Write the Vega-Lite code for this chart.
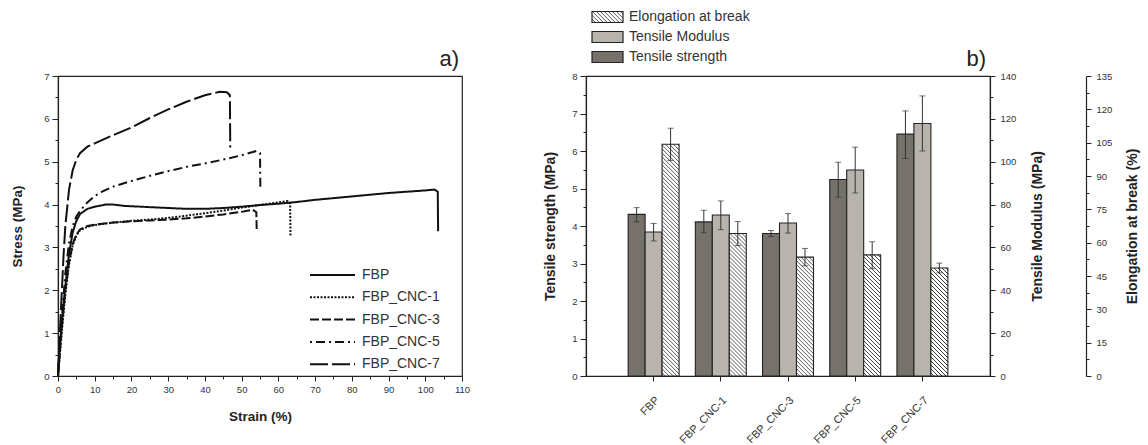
{
  "$schema": "https://vega.github.io/schema/vega-lite/v6.json",
  "padding": {"left": 10, "top": 9, "right": 0, "bottom": 0},
  "background": "white",
  "bounds": "flush",
  "spacing": 124,
  "params": [
    {"name": "hatch", "value": [
      {"offset":0,"color":"#fff"},{"offset":0.0095,"color":"#fff"},{"offset":0.0127,"color":"#222"},
      {"offset":0.0159,"color":"#fff"},{"offset":0.0254,"color":"#fff"},{"offset":0.0286,"color":"#222"},
      {"offset":0.0317,"color":"#fff"},{"offset":0.0413,"color":"#fff"},{"offset":0.0444,"color":"#222"},
      {"offset":0.0476,"color":"#fff"},{"offset":0.0571,"color":"#fff"},{"offset":0.0603,"color":"#222"},
      {"offset":0.0635,"color":"#fff"},{"offset":0.0730,"color":"#fff"},{"offset":0.0762,"color":"#222"},
      {"offset":0.0794,"color":"#fff"},{"offset":0.0889,"color":"#fff"},{"offset":0.0921,"color":"#222"},
      {"offset":0.0952,"color":"#fff"},{"offset":0.1048,"color":"#fff"},{"offset":0.1079,"color":"#222"},
      {"offset":0.1111,"color":"#fff"},{"offset":0.1206,"color":"#fff"},{"offset":0.1238,"color":"#222"},
      {"offset":0.1270,"color":"#fff"},{"offset":0.1365,"color":"#fff"},{"offset":0.1397,"color":"#222"},
      {"offset":0.1429,"color":"#fff"},{"offset":0.1524,"color":"#fff"},{"offset":0.1556,"color":"#222"},
      {"offset":0.1587,"color":"#fff"},{"offset":0.1683,"color":"#fff"},{"offset":0.1714,"color":"#222"},
      {"offset":0.1746,"color":"#fff"},{"offset":0.1841,"color":"#fff"},{"offset":0.1873,"color":"#222"},
      {"offset":0.1905,"color":"#fff"},{"offset":0.2000,"color":"#fff"},{"offset":0.2032,"color":"#222"},
      {"offset":0.2063,"color":"#fff"},{"offset":0.2159,"color":"#fff"},{"offset":0.2190,"color":"#222"},
      {"offset":0.2222,"color":"#fff"},{"offset":0.2317,"color":"#fff"},{"offset":0.2349,"color":"#222"},
      {"offset":0.2381,"color":"#fff"},{"offset":0.2476,"color":"#fff"},{"offset":0.2508,"color":"#222"},
      {"offset":0.2540,"color":"#fff"},{"offset":0.2635,"color":"#fff"},{"offset":0.2667,"color":"#222"},
      {"offset":0.2698,"color":"#fff"},{"offset":0.2794,"color":"#fff"},{"offset":0.2825,"color":"#222"},
      {"offset":0.2857,"color":"#fff"},{"offset":0.2952,"color":"#fff"},{"offset":0.2984,"color":"#222"},
      {"offset":0.3016,"color":"#fff"},{"offset":0.3111,"color":"#fff"},{"offset":0.3143,"color":"#222"},
      {"offset":0.3175,"color":"#fff"},{"offset":0.3270,"color":"#fff"},{"offset":0.3302,"color":"#222"},
      {"offset":0.3333,"color":"#fff"},{"offset":0.3429,"color":"#fff"},{"offset":0.3460,"color":"#222"},
      {"offset":0.3492,"color":"#fff"},{"offset":0.3587,"color":"#fff"},{"offset":0.3619,"color":"#222"},
      {"offset":0.3651,"color":"#fff"},{"offset":0.3746,"color":"#fff"},{"offset":0.3778,"color":"#222"},
      {"offset":0.3810,"color":"#fff"},{"offset":0.3905,"color":"#fff"},{"offset":0.3937,"color":"#222"},
      {"offset":0.3968,"color":"#fff"},{"offset":0.4063,"color":"#fff"},{"offset":0.4095,"color":"#222"},
      {"offset":0.4127,"color":"#fff"},{"offset":0.4222,"color":"#fff"},{"offset":0.4254,"color":"#222"},
      {"offset":0.4286,"color":"#fff"},{"offset":0.4381,"color":"#fff"},{"offset":0.4413,"color":"#222"},
      {"offset":0.4444,"color":"#fff"},{"offset":0.4540,"color":"#fff"},{"offset":0.4571,"color":"#222"},
      {"offset":0.4603,"color":"#fff"},{"offset":0.4698,"color":"#fff"},{"offset":0.4730,"color":"#222"},
      {"offset":0.4762,"color":"#fff"},{"offset":0.4857,"color":"#fff"},{"offset":0.4889,"color":"#222"},
      {"offset":0.4921,"color":"#fff"},{"offset":0.5016,"color":"#fff"},{"offset":0.5048,"color":"#222"},
      {"offset":0.5079,"color":"#fff"},{"offset":0.5175,"color":"#fff"},{"offset":0.5206,"color":"#222"},
      {"offset":0.5238,"color":"#fff"},{"offset":0.5333,"color":"#fff"},{"offset":0.5365,"color":"#222"},
      {"offset":0.5397,"color":"#fff"},{"offset":0.5492,"color":"#fff"},{"offset":0.5524,"color":"#222"},
      {"offset":0.5556,"color":"#fff"},{"offset":0.5651,"color":"#fff"},{"offset":0.5683,"color":"#222"},
      {"offset":0.5714,"color":"#fff"},{"offset":0.5810,"color":"#fff"},{"offset":0.5841,"color":"#222"},
      {"offset":0.5873,"color":"#fff"},{"offset":0.5968,"color":"#fff"},{"offset":0.6000,"color":"#222"},
      {"offset":0.6032,"color":"#fff"},{"offset":0.6127,"color":"#fff"},{"offset":0.6159,"color":"#222"},
      {"offset":0.6190,"color":"#fff"},{"offset":0.6286,"color":"#fff"},{"offset":0.6317,"color":"#222"},
      {"offset":0.6349,"color":"#fff"},{"offset":0.6444,"color":"#fff"},{"offset":0.6476,"color":"#222"},
      {"offset":0.6508,"color":"#fff"},{"offset":0.6603,"color":"#fff"},{"offset":0.6635,"color":"#222"},
      {"offset":0.6667,"color":"#fff"},{"offset":0.6762,"color":"#fff"},{"offset":0.6794,"color":"#222"},
      {"offset":0.6825,"color":"#fff"},{"offset":0.6921,"color":"#fff"},{"offset":0.6952,"color":"#222"},
      {"offset":0.6984,"color":"#fff"},{"offset":0.7079,"color":"#fff"},{"offset":0.7111,"color":"#222"},
      {"offset":0.7143,"color":"#fff"},{"offset":0.7238,"color":"#fff"},{"offset":0.7270,"color":"#222"},
      {"offset":0.7302,"color":"#fff"},{"offset":0.7397,"color":"#fff"},{"offset":0.7429,"color":"#222"},
      {"offset":0.7460,"color":"#fff"},{"offset":0.7556,"color":"#fff"},{"offset":0.7587,"color":"#222"},
      {"offset":0.7619,"color":"#fff"},{"offset":0.7714,"color":"#fff"},{"offset":0.7746,"color":"#222"},
      {"offset":0.7778,"color":"#fff"},{"offset":0.7873,"color":"#fff"},{"offset":0.7905,"color":"#222"},
      {"offset":0.7937,"color":"#fff"},{"offset":0.8032,"color":"#fff"},{"offset":0.8063,"color":"#222"},
      {"offset":0.8095,"color":"#fff"},{"offset":0.8190,"color":"#fff"},{"offset":0.8222,"color":"#222"},
      {"offset":0.8254,"color":"#fff"},{"offset":0.8349,"color":"#fff"},{"offset":0.8381,"color":"#222"},
      {"offset":0.8413,"color":"#fff"},{"offset":0.8508,"color":"#fff"},{"offset":0.8540,"color":"#222"},
      {"offset":0.8571,"color":"#fff"},{"offset":0.8667,"color":"#fff"},{"offset":0.8698,"color":"#222"},
      {"offset":0.8730,"color":"#fff"},{"offset":0.8825,"color":"#fff"},{"offset":0.8857,"color":"#222"},
      {"offset":0.8889,"color":"#fff"},{"offset":0.8984,"color":"#fff"},{"offset":0.9016,"color":"#222"},
      {"offset":0.9048,"color":"#fff"},{"offset":0.9143,"color":"#fff"},{"offset":0.9175,"color":"#222"},
      {"offset":0.9206,"color":"#fff"},{"offset":0.9302,"color":"#fff"},{"offset":0.9333,"color":"#222"},
      {"offset":0.9365,"color":"#fff"},{"offset":0.9460,"color":"#fff"},{"offset":0.9492,"color":"#222"},
      {"offset":0.9524,"color":"#fff"},{"offset":0.9619,"color":"#fff"},{"offset":0.9651,"color":"#222"},
      {"offset":0.9683,"color":"#fff"},{"offset":0.9778,"color":"#fff"},{"offset":0.9810,"color":"#222"},
      {"offset":0.9841,"color":"#fff"},{"offset":0.9937,"color":"#fff"},{"offset":0.9968,"color":"#222"},
      {"offset":1,"color":"#fff"}
    ]}
  ],
  "config": {
    "font": "Liberation Sans",
    "view": {"stroke": "#222", "strokeWidth": 1.2},
    "axis": {"labelFont": "Liberation Sans", "labelFontSize": 9.5, "labelColor": "#333", "titleFont": "Liberation Sans", "titleFontWeight": "bold", "titleColor": "#222", "domainColor": "#222", "domainWidth": 1.2, "tickColor": "#222", "tickWidth": 1, "grid": false, "labelOverlap": false},
    "legend": {"labelFont": "Liberation Sans", "labelFontSize": 14, "labelColor": "#333"},
    "title": {"font": "Liberation Sans", "fontSize": 22, "fontWeight": "normal", "color": "#222"}
  },
  "datasets": {
    "curves": [
      {"series":"FBP","i":0,"strain":0,"stress":0},
      {"series":"FBP","i":1,"strain":0.5,"stress":0.7},
      {"series":"FBP","i":2,"strain":1,"stress":1.2},
      {"series":"FBP","i":3,"strain":2,"stress":2.1},
      {"series":"FBP","i":4,"strain":3,"stress":2.85},
      {"series":"FBP","i":5,"strain":4,"stress":3.35},
      {"series":"FBP","i":6,"strain":5,"stress":3.62},
      {"series":"FBP","i":7,"strain":6,"stress":3.78},
      {"series":"FBP","i":8,"strain":8,"stress":3.9},
      {"series":"FBP","i":9,"strain":10,"stress":3.95},
      {"series":"FBP","i":10,"strain":13,"stress":4.0},
      {"series":"FBP","i":11,"strain":15,"stress":4.0},
      {"series":"FBP","i":12,"strain":18,"stress":3.97},
      {"series":"FBP","i":13,"strain":25,"stress":3.94},
      {"series":"FBP","i":14,"strain":30,"stress":3.92},
      {"series":"FBP","i":15,"strain":35,"stress":3.9},
      {"series":"FBP","i":16,"strain":40,"stress":3.9},
      {"series":"FBP","i":17,"strain":45,"stress":3.92},
      {"series":"FBP","i":18,"strain":50,"stress":3.95},
      {"series":"FBP","i":19,"strain":55,"stress":3.99},
      {"series":"FBP","i":20,"strain":60,"stress":4.02},
      {"series":"FBP","i":21,"strain":65,"stress":4.06},
      {"series":"FBP","i":22,"strain":70,"stress":4.11},
      {"series":"FBP","i":23,"strain":80,"stress":4.19},
      {"series":"FBP","i":24,"strain":90,"stress":4.27},
      {"series":"FBP","i":25,"strain":100,"stress":4.33},
      {"series":"FBP","i":26,"strain":102.5,"stress":4.35},
      {"series":"FBP","i":27,"strain":103.4,"stress":4.3},
      {"series":"FBP","i":28,"strain":103.5,"stress":3.38},
      {"series":"FBP_CNC-1","i":0,"strain":0,"stress":0},
      {"series":"FBP_CNC-1","i":1,"strain":1,"stress":1.0},
      {"series":"FBP_CNC-1","i":2,"strain":2,"stress":1.9},
      {"series":"FBP_CNC-1","i":3,"strain":3,"stress":2.6},
      {"series":"FBP_CNC-1","i":4,"strain":4,"stress":3.05},
      {"series":"FBP_CNC-1","i":5,"strain":5,"stress":3.28},
      {"series":"FBP_CNC-1","i":6,"strain":6,"stress":3.4},
      {"series":"FBP_CNC-1","i":7,"strain":8,"stress":3.48},
      {"series":"FBP_CNC-1","i":8,"strain":10,"stress":3.52},
      {"series":"FBP_CNC-1","i":9,"strain":15,"stress":3.58},
      {"series":"FBP_CNC-1","i":10,"strain":20,"stress":3.62},
      {"series":"FBP_CNC-1","i":11,"strain":25,"stress":3.65},
      {"series":"FBP_CNC-1","i":12,"strain":30,"stress":3.69},
      {"series":"FBP_CNC-1","i":13,"strain":35,"stress":3.74},
      {"series":"FBP_CNC-1","i":14,"strain":40,"stress":3.8},
      {"series":"FBP_CNC-1","i":15,"strain":45,"stress":3.86},
      {"series":"FBP_CNC-1","i":16,"strain":50,"stress":3.93},
      {"series":"FBP_CNC-1","i":17,"strain":55,"stress":3.99},
      {"series":"FBP_CNC-1","i":18,"strain":60,"stress":4.05},
      {"series":"FBP_CNC-1","i":19,"strain":62.5,"stress":4.08},
      {"series":"FBP_CNC-1","i":20,"strain":63.2,"stress":4.02},
      {"series":"FBP_CNC-1","i":21,"strain":63.3,"stress":3.25},
      {"series":"FBP_CNC-3","i":0,"strain":0,"stress":0},
      {"series":"FBP_CNC-3","i":1,"strain":1,"stress":1.1},
      {"series":"FBP_CNC-3","i":2,"strain":2,"stress":2.0},
      {"series":"FBP_CNC-3","i":3,"strain":3,"stress":2.65},
      {"series":"FBP_CNC-3","i":4,"strain":4,"stress":3.08},
      {"series":"FBP_CNC-3","i":5,"strain":5,"stress":3.3},
      {"series":"FBP_CNC-3","i":6,"strain":6,"stress":3.42},
      {"series":"FBP_CNC-3","i":7,"strain":8,"stress":3.5},
      {"series":"FBP_CNC-3","i":8,"strain":10,"stress":3.53},
      {"series":"FBP_CNC-3","i":9,"strain":15,"stress":3.58},
      {"series":"FBP_CNC-3","i":10,"strain":20,"stress":3.61},
      {"series":"FBP_CNC-3","i":11,"strain":25,"stress":3.63},
      {"series":"FBP_CNC-3","i":12,"strain":30,"stress":3.65},
      {"series":"FBP_CNC-3","i":13,"strain":35,"stress":3.68},
      {"series":"FBP_CNC-3","i":14,"strain":40,"stress":3.72},
      {"series":"FBP_CNC-3","i":15,"strain":45,"stress":3.77},
      {"series":"FBP_CNC-3","i":16,"strain":50,"stress":3.83},
      {"series":"FBP_CNC-3","i":17,"strain":53,"stress":3.88},
      {"series":"FBP_CNC-3","i":18,"strain":54,"stress":3.82},
      {"series":"FBP_CNC-3","i":19,"strain":54.1,"stress":3.43},
      {"series":"FBP_CNC-5","i":0,"strain":0,"stress":0},
      {"series":"FBP_CNC-5","i":1,"strain":1,"stress":1.3},
      {"series":"FBP_CNC-5","i":2,"strain":2,"stress":2.4},
      {"series":"FBP_CNC-5","i":3,"strain":3,"stress":3.1},
      {"series":"FBP_CNC-5","i":4,"strain":4,"stress":3.5},
      {"series":"FBP_CNC-5","i":5,"strain":5,"stress":3.72},
      {"series":"FBP_CNC-5","i":6,"strain":6,"stress":3.85},
      {"series":"FBP_CNC-5","i":7,"strain":8,"stress":4.05},
      {"series":"FBP_CNC-5","i":8,"strain":10,"stress":4.2},
      {"series":"FBP_CNC-5","i":9,"strain":12,"stress":4.3},
      {"series":"FBP_CNC-5","i":10,"strain":15,"stress":4.42},
      {"series":"FBP_CNC-5","i":11,"strain":20,"stress":4.55},
      {"series":"FBP_CNC-5","i":12,"strain":25,"stress":4.67},
      {"series":"FBP_CNC-5","i":13,"strain":30,"stress":4.78},
      {"series":"FBP_CNC-5","i":14,"strain":35,"stress":4.88},
      {"series":"FBP_CNC-5","i":15,"strain":40,"stress":4.96},
      {"series":"FBP_CNC-5","i":16,"strain":45,"stress":5.05},
      {"series":"FBP_CNC-5","i":17,"strain":50,"stress":5.15},
      {"series":"FBP_CNC-5","i":18,"strain":54,"stress":5.25},
      {"series":"FBP_CNC-5","i":19,"strain":55,"stress":5.2},
      {"series":"FBP_CNC-5","i":20,"strain":55.1,"stress":4.38},
      {"series":"FBP_CNC-7","i":0,"strain":0,"stress":0},
      {"series":"FBP_CNC-7","i":1,"strain":0.5,"stress":1.0},
      {"series":"FBP_CNC-7","i":2,"strain":1,"stress":1.9},
      {"series":"FBP_CNC-7","i":3,"strain":1.5,"stress":2.8},
      {"series":"FBP_CNC-7","i":4,"strain":2,"stress":3.5},
      {"series":"FBP_CNC-7","i":5,"strain":3,"stress":4.35},
      {"series":"FBP_CNC-7","i":6,"strain":4,"stress":4.8},
      {"series":"FBP_CNC-7","i":7,"strain":5,"stress":5.05},
      {"series":"FBP_CNC-7","i":8,"strain":6,"stress":5.2},
      {"series":"FBP_CNC-7","i":9,"strain":8,"stress":5.35},
      {"series":"FBP_CNC-7","i":10,"strain":10,"stress":5.43},
      {"series":"FBP_CNC-7","i":11,"strain":15,"stress":5.62},
      {"series":"FBP_CNC-7","i":12,"strain":20,"stress":5.8},
      {"series":"FBP_CNC-7","i":13,"strain":25,"stress":6.02},
      {"series":"FBP_CNC-7","i":14,"strain":30,"stress":6.22},
      {"series":"FBP_CNC-7","i":15,"strain":35,"stress":6.4},
      {"series":"FBP_CNC-7","i":16,"strain":40,"stress":6.55},
      {"series":"FBP_CNC-7","i":17,"strain":44,"stress":6.63},
      {"series":"FBP_CNC-7","i":18,"strain":46,"stress":6.62},
      {"series":"FBP_CNC-7","i":19,"strain":46.8,"stress":6.55},
      {"series":"FBP_CNC-7","i":20,"strain":46.9,"stress":5.33}
    ],
    "props": [
      {"sample":"FBP","measure":"Tensile strength","value":4.31,"lo":4.11,"hi":4.49},
      {"sample":"FBP_CNC-1","measure":"Tensile strength","value":4.11,"lo":3.82,"hi":4.42},
      {"sample":"FBP_CNC-3","measure":"Tensile strength","value":3.8,"lo":3.72,"hi":3.88},
      {"sample":"FBP_CNC-5","measure":"Tensile strength","value":5.24,"lo":4.77,"hi":5.7},
      {"sample":"FBP_CNC-7","measure":"Tensile strength","value":6.45,"lo":5.8,"hi":7.07},
      {"sample":"FBP","measure":"Tensile Modulus","value":67.2,"lo":63.0,"hi":71.2},
      {"sample":"FBP_CNC-1","measure":"Tensile Modulus","value":75.1,"lo":68.3,"hi":81.7},
      {"sample":"FBP_CNC-3","measure":"Tensile Modulus","value":71.4,"lo":66.7,"hi":75.8},
      {"sample":"FBP_CNC-5","measure":"Tensile Modulus","value":96.1,"lo":85.4,"hi":106.8},
      {"sample":"FBP_CNC-7","measure":"Tensile Modulus","value":117.8,"lo":105.0,"hi":130.7},
      {"sample":"FBP","measure":"Elongation at break","value":104.3,"lo":97.0,"hi":111.5},
      {"sample":"FBP_CNC-1","measure":"Elongation at break","value":64.1,"lo":58.7,"hi":69.5},
      {"sample":"FBP_CNC-3","measure":"Elongation at break","value":53.5,"lo":49.6,"hi":57.4},
      {"sample":"FBP_CNC-5","measure":"Elongation at break","value":54.5,"lo":48.3,"hi":60.4},
      {"sample":"FBP_CNC-7","measure":"Elongation at break","value":48.6,"lo":46.4,"hi":50.8}
    ]
  },
  "hconcat": [
    {
      "width": 404,
      "height": 300,
      "title": {"text": "a)", "anchor": "end", "frame": "group", "offset": 0, "dx": -3},
      "data": {"name": "curves"},
      "mark": {"type": "line", "color": "#111", "strokeWidth": 2},
      "encoding": {
        "x": {"field": "strain", "type": "quantitative", "scale": {"domain": [0, 110], "nice": false},
          "axis": {"title": "Strain (%)", "titleFontSize": 13.5, "values": [0,5,10,15,20,25,30,35,40,45,50,55,60,65,70,75,80,85,90,95,100,105,110],
            "format": ".0f", "labelExpr": "datum.value % 10 ? '' : datum.label", "labelFlush": false,
            "tickSize": {"condition": {"test": "datum.value % 10 !== 0", "value": 3}, "value": 5},
            "labelPadding": 3, "titlePadding": 16}},
        "y": {"field": "stress", "type": "quantitative", "scale": {"domain": [0, 7], "nice": false},
          "axis": {"title": "Stress (MPa)", "titleFontSize": 13.5, "values": [0,0.5,1,1.5,2,2.5,3,3.5,4,4.5,5,5.5,6,6.5,7],
            "format": ".0f", "labelExpr": "datum.value % 1 ? '' : datum.label", "labelFlush": false,
            "tickSize": {"condition": {"test": "datum.value % 1 !== 0", "value": 3}, "value": 6},
            "labelPadding": 3, "titlePadding": 19}},
        "strokeDash": {"field": "series", "type": "nominal",
          "scale": {"domain": ["FBP","FBP_CNC-1","FBP_CNC-3","FBP_CNC-5","FBP_CNC-7"], "range": [[1,0],[2,1.5],[9,3],[2,4,9,4],[18,4]]},
          "legend": {"orient": "none", "legendX": 251, "legendY": 191, "title": null, "symbolType": "stroke", "symbolSize": 2025,
            "symbolStrokeWidth": 2, "symbolStrokeColor": "#111", "labelOffset": 6, "clipHeight": 16, "rowPadding": 6.3, "labelFontSize": 14}},
        "order": {"field": "i", "type": "quantitative"}
      }
    },
    {
      "width": 404,
      "height": 300,
      "title": {"text": "b)", "anchor": "end", "frame": "group", "offset": 0, "dx": -4},
      "data": {"name": "props"},
      "layer": [
        {
          "transform": [{"filter": "datum.measure === 'Tensile strength'"}],
          "encoding": {
            "x": {"field": "sample", "type": "nominal", "sort": ["FBP","FBP_CNC-1","FBP_CNC-3","FBP_CNC-5","FBP_CNC-7"],
              "scale": {"paddingInner": 0.242, "paddingOuter": 0.627},
              "axis": {"title": null, "labelAngle": -45, "labelFontSize": 11, "tickSize": 5, "labelPadding": 13}},
            "xOffset": {"field": "measure", "type": "nominal", "scale": {"domain": ["Tensile strength","Tensile Modulus","Elongation at break"]}}
          },
          "layer": [
            {"mark": {"type": "bar", "stroke": "#222", "strokeWidth": 1.1},
             "encoding": {
               "y": {"field": "value", "type": "quantitative", "scale": {"domain": [0, 8], "nice": false},
                 "axis": {"orient": "left", "title": "Tensile strength (MPa)", "titleFontSize": 14, "values": [0,0.5,1,1.5,2,2.5,3,3.5,4,4.5,5,5.5,6,6.5,7,7.5,8],
                   "format": ".0f", "labelExpr": "datum.value % 1 ? '' : datum.label", "labelFlush": false,
                   "tickSize": {"condition": {"test": "datum.value % 1 !== 0", "value": 3}, "value": 6},
                   "labelPadding": 3, "titlePadding": 14}},
               "color": {"field": "measure", "type": "nominal",
                 "scale": {"domain": ["Elongation at break","Tensile Modulus","Tensile strength"],
                   "range": [{"expr": "{gradient: 'linear', x1: 0, y1: 1, x2: 7.22, y2: -1.562, stops: hatch}"}, "#b8b3ad", "#77716b"]},
                 "legend": {"orient": "none", "legendX": 533, "legendY": -67, "title": null, "symbolType": "M-1,-0.355H1V0.355H-1Z", "symbolSize": 961,
                   "symbolStrokeColor": "#222", "symbolStrokeWidth": 1.2, "symbolOpacity": 1, "labelOffset": 5, "clipHeight": 16, "rowPadding": 4, "labelFontSize": 14}}
             }},
            {"mark": {"type": "rule", "color": "#333", "strokeWidth": 1},
             "encoding": {"y": {"field": "lo", "type": "quantitative", "scale": {"domain": [0, 8], "nice": false},
                 "axis": {"orient": "left", "title": "Tensile strength (MPa)", "titleFontSize": 14, "values": [0,0.5,1,1.5,2,2.5,3,3.5,4,4.5,5,5.5,6,6.5,7,7.5,8],
                   "format": ".0f", "labelExpr": "datum.value % 1 ? '' : datum.label", "labelFlush": false,
                   "tickSize": {"condition": {"test": "datum.value % 1 !== 0", "value": 3}, "value": 6},
                   "labelPadding": 3, "titlePadding": 14}}, "y2": {"field": "hi"}}},
            {"mark": {"type": "tick", "color": "#333", "thickness": 1, "size": 6},
             "encoding": {"y": {"field": "lo", "type": "quantitative", "scale": {"domain": [0, 8], "nice": false},
                 "axis": {"orient": "left", "title": "Tensile strength (MPa)", "titleFontSize": 14, "values": [0,0.5,1,1.5,2,2.5,3,3.5,4,4.5,5,5.5,6,6.5,7,7.5,8],
                   "format": ".0f", "labelExpr": "datum.value % 1 ? '' : datum.label", "labelFlush": false,
                   "tickSize": {"condition": {"test": "datum.value % 1 !== 0", "value": 3}, "value": 6},
                   "labelPadding": 3, "titlePadding": 14}}}},
            {"mark": {"type": "tick", "color": "#333", "thickness": 1, "size": 6},
             "encoding": {"y": {"field": "hi", "type": "quantitative", "scale": {"domain": [0, 8], "nice": false},
                 "axis": {"orient": "left", "title": "Tensile strength (MPa)", "titleFontSize": 14, "values": [0,0.5,1,1.5,2,2.5,3,3.5,4,4.5,5,5.5,6,6.5,7,7.5,8],
                   "format": ".0f", "labelExpr": "datum.value % 1 ? '' : datum.label", "labelFlush": false,
                   "tickSize": {"condition": {"test": "datum.value % 1 !== 0", "value": 3}, "value": 6},
                   "labelPadding": 3, "titlePadding": 14}}}}
          ]
        },
        {
          "transform": [{"filter": "datum.measure === 'Tensile Modulus'"}],
          "encoding": {
            "x": {"field": "sample", "type": "nominal", "sort": ["FBP","FBP_CNC-1","FBP_CNC-3","FBP_CNC-5","FBP_CNC-7"],
              "scale": {"paddingInner": 0.242, "paddingOuter": 0.627}},
            "xOffset": {"field": "measure", "type": "nominal", "scale": {"domain": ["Tensile strength","Tensile Modulus","Elongation at break"]}}
          },
          "layer": [
            {"mark": {"type": "bar", "stroke": "#222", "strokeWidth": 1.1},
             "encoding": {
               "y": {"field": "value", "type": "quantitative", "scale": {"domain": [0, 140], "nice": false},
                 "axis": {"orient": "right", "title": "Tensile Modulus (MPa)", "titleFontSize": 14, "titleAngle": 270,
                   "values": [0,10,20,30,40,50,60,70,80,90,100,110,120,130,140],
                   "labelExpr": "datum.value % 20 ? '' : datum.label", "labelFlush": false,
                   "tickSize": {"condition": {"test": "datum.value % 20 !== 0", "value": 3}, "value": 5},
                   "labelPadding": 5, "titlePadding": 29}},
               "color": {"field": "measure", "type": "nominal", "legend": null}
             }},
            {"mark": {"type": "rule", "color": "#333", "strokeWidth": 1},
             "encoding": {"y": {"field": "lo", "type": "quantitative", "scale": {"domain": [0, 140], "nice": false},
                 "axis": {"orient": "right", "title": "Tensile Modulus (MPa)", "titleFontSize": 14, "titleAngle": 270,
                   "values": [0,10,20,30,40,50,60,70,80,90,100,110,120,130,140],
                   "labelExpr": "datum.value % 20 ? '' : datum.label", "labelFlush": false,
                   "tickSize": {"condition": {"test": "datum.value % 20 !== 0", "value": 3}, "value": 5},
                   "labelPadding": 5, "titlePadding": 29}}, "y2": {"field": "hi"}}},
            {"mark": {"type": "tick", "color": "#333", "thickness": 1, "size": 6},
             "encoding": {"y": {"field": "lo", "type": "quantitative", "scale": {"domain": [0, 140], "nice": false},
                 "axis": {"orient": "right", "title": "Tensile Modulus (MPa)", "titleFontSize": 14, "titleAngle": 270,
                   "values": [0,10,20,30,40,50,60,70,80,90,100,110,120,130,140],
                   "labelExpr": "datum.value % 20 ? '' : datum.label", "labelFlush": false,
                   "tickSize": {"condition": {"test": "datum.value % 20 !== 0", "value": 3}, "value": 5},
                   "labelPadding": 5, "titlePadding": 29}}}},
            {"mark": {"type": "tick", "color": "#333", "thickness": 1, "size": 6},
             "encoding": {"y": {"field": "hi", "type": "quantitative", "scale": {"domain": [0, 140], "nice": false},
                 "axis": {"orient": "right", "title": "Tensile Modulus (MPa)", "titleFontSize": 14, "titleAngle": 270,
                   "values": [0,10,20,30,40,50,60,70,80,90,100,110,120,130,140],
                   "labelExpr": "datum.value % 20 ? '' : datum.label", "labelFlush": false,
                   "tickSize": {"condition": {"test": "datum.value % 20 !== 0", "value": 3}, "value": 5},
                   "labelPadding": 5, "titlePadding": 29}}}}
          ]
        },
        {
          "transform": [{"filter": "datum.measure === 'Elongation at break'"}],
          "encoding": {
            "x": {"field": "sample", "type": "nominal", "sort": ["FBP","FBP_CNC-1","FBP_CNC-3","FBP_CNC-5","FBP_CNC-7"],
              "scale": {"paddingInner": 0.242, "paddingOuter": 0.627}},
            "xOffset": {"field": "measure", "type": "nominal", "scale": {"domain": ["Tensile strength","Tensile Modulus","Elongation at break"]}}
          },
          "layer": [
            {"mark": {"type": "bar", "stroke": "#222", "strokeWidth": 1.1},
             "encoding": {
               "y": {"field": "value", "type": "quantitative", "scale": {"domain": [0, 135], "nice": false},
                 "axis": {"orient": "right", "offset": 96, "title": "Elongation at break (%)", "titleFontSize": 14, "titleAngle": 270,
                   "values": [0,7.5,15,22.5,30,37.5,45,52.5,60,67.5,75,82.5,90,97.5,105,112.5,120,127.5,135],
                   "format": ".0f", "labelExpr": "datum.value % 15 ? '' : datum.label", "labelFlush": false,
                   "tickSize": {"condition": {"test": "datum.value % 15 !== 0", "value": 3}, "value": 5},
                   "labelPadding": 5, "titlePadding": 28}},
               "fill": {"value": {"expr": "{gradient: 'linear', x1: 0, y1: 1, x2: 4284/(289+pow(datum.value*2.2222,2)), y2: 1-252*datum.value*2.2222/(289+pow(datum.value*2.2222,2)), stops: hatch}"}}
             }},
            {"mark": {"type": "rule", "color": "#333", "strokeWidth": 1},
             "encoding": {"y": {"field": "lo", "type": "quantitative", "scale": {"domain": [0, 135], "nice": false},
                 "axis": {"orient": "right", "offset": 96, "title": "Elongation at break (%)", "titleFontSize": 14, "titleAngle": 270,
                   "values": [0,7.5,15,22.5,30,37.5,45,52.5,60,67.5,75,82.5,90,97.5,105,112.5,120,127.5,135],
                   "format": ".0f", "labelExpr": "datum.value % 15 ? '' : datum.label", "labelFlush": false,
                   "tickSize": {"condition": {"test": "datum.value % 15 !== 0", "value": 3}, "value": 5},
                   "labelPadding": 5, "titlePadding": 28}}, "y2": {"field": "hi"}}},
            {"mark": {"type": "tick", "color": "#333", "thickness": 1, "size": 6},
             "encoding": {"y": {"field": "lo", "type": "quantitative", "scale": {"domain": [0, 135], "nice": false},
                 "axis": {"orient": "right", "offset": 96, "title": "Elongation at break (%)", "titleFontSize": 14, "titleAngle": 270,
                   "values": [0,7.5,15,22.5,30,37.5,45,52.5,60,67.5,75,82.5,90,97.5,105,112.5,120,127.5,135],
                   "format": ".0f", "labelExpr": "datum.value % 15 ? '' : datum.label", "labelFlush": false,
                   "tickSize": {"condition": {"test": "datum.value % 15 !== 0", "value": 3}, "value": 5},
                   "labelPadding": 5, "titlePadding": 28}}}},
            {"mark": {"type": "tick", "color": "#333", "thickness": 1, "size": 6},
             "encoding": {"y": {"field": "hi", "type": "quantitative", "scale": {"domain": [0, 135], "nice": false},
                 "axis": {"orient": "right", "offset": 96, "title": "Elongation at break (%)", "titleFontSize": 14, "titleAngle": 270,
                   "values": [0,7.5,15,22.5,30,37.5,45,52.5,60,67.5,75,82.5,90,97.5,105,112.5,120,127.5,135],
                   "format": ".0f", "labelExpr": "datum.value % 15 ? '' : datum.label", "labelFlush": false,
                   "tickSize": {"condition": {"test": "datum.value % 15 !== 0", "value": 3}, "value": 5},
                   "labelPadding": 5, "titlePadding": 28}}}}
          ]
        }
      ],
      "resolve": {"scale": {"y": "independent"}}
    }
  ]
}
